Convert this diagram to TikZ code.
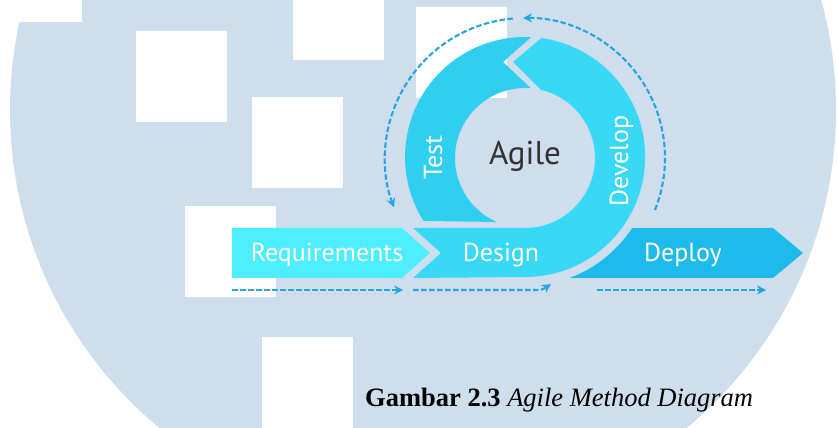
\documentclass[tikz,border=0pt]{standalone}
\usepackage{fontspec}
\setmainfont{Liberation Serif}
\newfontfamily\labelfont{PT Sans}
\usetikzlibrary{calc,arrows.meta}
\definecolor{bgblue}{HTML}{CEDEED}
\definecolor{reqcyan}{HTML}{4DEFFF}
\definecolor{devcyan}{HTML}{38D9F7}
\definecolor{testcyan}{HTML}{2FCFF1}
\definecolor{deploycyan}{HTML}{1DBBEC}
\definecolor{dashblue}{HTML}{24A6E0}
\definecolor{agiletext}{HTML}{333333}

\begin{document}
\begin{tikzpicture}[x=1pt,y=1pt,
  stagelabel/.style={text=white,font=\labelfont\fontsize{26}{26}\selectfont,inner sep=0pt},
  flowdash/.style={draw=dashblue,line width=2.1pt,dash pattern=on 5.5pt off 2.5pt,
    -{Stealth[length=9pt,width=9pt,inset=3pt]}},
  paperbox/.style={fill=white}]
\useasboundingbox (0,0) rectangle (838,428);
\clip (0,0) rectangle (838,428);

% page and the large pale disc behind everything
\fill[white] (0,0) rectangle (838,428);
\fill[bgblue] (423,318) circle[radius=413];

% scattered white tiles
\fill[paperbox] (0,406) rectangle (82,428);
\foreach \x/\y in {136/306, 293/368, 252/240, 416/330, 185/131, 262/0}
  \fill[paperbox] (\x,\y) rectangle ++(91,91);

% centre of the iteration ring
\coordinate (C) at (525,270);

% Requirements chevron
\fill[reqcyan] (232,150) -- (402,150) -- (430,175) -- (402,200) -- (232,200) -- cycle;

% Design band turning into the Develop arc, ending in a tip at the top
\fill[devcyan] (413,200) -- (525,200)
  arc[start angle=270, end angle=436.8, radius=70]
  -- (513,366)
  -- ($(C)+(82.3:121)$)
  arc[start angle=82.3, end angle=-90, radius=120]
  -- (413,150) -- (441,175) -- cycle;

% Test arc, notched at the top, cut off above the Design band
\fill[testcyan] ($(C)+(87.1:121)$)
  arc[start angle=87.1, end angle=212.2, radius=120]
  -- ($(C)+(246.1:70)$)
  arc[start angle=246.1, end angle=85.1, radius=70]
  -- (503,366) -- cycle;

% Deploy arrow, its left side following the ring
\fill[deploycyan] ($(C)+(-69.6:128)$) -- (773,150) -- (803,175) -- (773,200)
  -- ($(C)+(-33.2:128)$)
  arc[start angle=-33.2, end angle=-69.6, radius=128] -- cycle;

% labels
\node[stagelabel,anchor=base] (req) at (327,166) {Requirements};
\node[stagelabel,anchor=base] (des) at (501,166) {Design};
\node[stagelabel,anchor=base] (dep) at (683,166) {Deploy};
\node[stagelabel,anchor=base,rotate=90] (tst) at (442,270.5) {Test};
\node[stagelabel,anchor=base,rotate=90] (dev) at (628,267) {Develop};
\node[text=agiletext,font=\labelfont\fontsize{33}{33}\selectfont,inner sep=0pt,anchor=base]
  (agile) at (525,263) {Agile};

% dashed flow arrows under the stages
\coordinate (reqS) at (232,138);
\coordinate (reqE) at (403,138);
\coordinate (desS) at (413,138);
\coordinate (desE) at (551,144);
\coordinate (depS) at (597,138);
\coordinate (depE) at (766,138);
\draw[flowdash] (reqS) -- (reqE);
\draw[flowdash] (desS) -- (530,138) .. controls (542,138) .. (desE);
\draw[flowdash] (depS) -- (depE);

% dashed loop arrows around the ring
\draw[flowdash] ($(C)+(95:140)$) arc[start angle=95, end angle=200.6, radius=140];
\draw[flowdash] ($(C)+(-21.8:140)$) arc[start angle=-21.8, end angle=90.8, radius=140];

% caption
\node[anchor=base west,inner sep=0pt,font=\fontsize{26.5}{26.5}\selectfont] (cap) at (365,21)
  {\textbf{Gambar 2.3} \textit{Agile Method Diagram}};
\end{tikzpicture}
\end{document}
